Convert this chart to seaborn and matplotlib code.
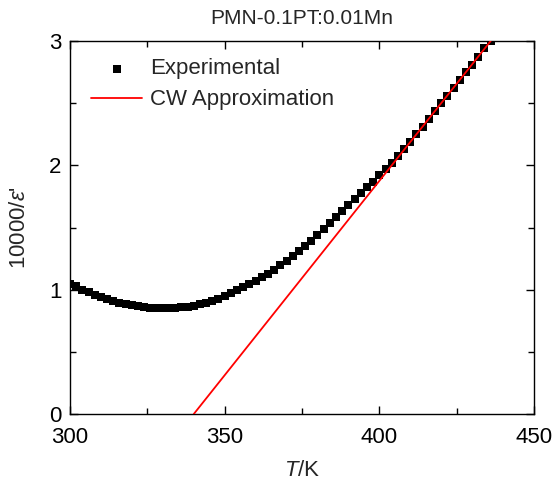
import matplotlib
matplotlib.use("Agg")
import matplotlib.pyplot as plt
import seaborn as sns
import pandas as pd
from matplotlib.ticker import MultipleLocator

# ---- data ----
temperature = [300, 302, 304, 306, 308, 310, 312, 314, 316, 318,
               320, 322, 324, 326, 328, 330, 332, 334, 336, 338,
               340, 342, 344, 346, 348, 350, 352, 354, 356, 358,
               360, 362, 364, 366, 368, 370, 372, 374, 376, 378,
               380, 382, 384, 386, 388, 390, 392, 394, 396, 398,
               400, 402, 404, 406, 408, 410, 412, 414, 416, 418,
               420, 422, 424, 426, 428, 430, 432, 434, 436]
inv_eps = [1.05, 1.03, 1.00, 0.98, 0.96, 0.94, 0.925, 0.91, 0.895, 0.885,
           0.875, 0.867, 0.861, 0.856, 0.853, 0.851, 0.851, 0.853, 0.858, 0.864,
           0.872, 0.882, 0.895, 0.91, 0.928, 0.948, 0.97, 0.995, 1.02, 1.045,
           1.07, 1.10, 1.13, 1.16, 1.195, 1.23, 1.27, 1.31, 1.35, 1.395,
           1.44, 1.49, 1.535, 1.585, 1.63, 1.68, 1.73, 1.775, 1.825, 1.87,
           1.92, 1.97, 2.02, 2.075, 2.13, 2.19, 2.25, 2.31, 2.375, 2.44,
           2.50, 2.56, 2.625, 2.69, 2.75, 2.81, 2.875, 2.94, 3.00]
cw_temperature = [340, 436]
cw_values = [0.0, 3.0]

title = "PMN-0.1PT:0.01Mn"
x_ticks = [300, 350, 400, 450]
y_ticks = [0, 1, 2, 3]

sns.set_style("ticks")
plt.rcParams["font.family"] = ["Liberation Sans", "DejaVu Sans"]
plt.rcParams["mathtext.fontset"] = "custom"
plt.rcParams["mathtext.rm"] = "Liberation Sans"
plt.rcParams["mathtext.it"] = "Liberation Sans:italic"

exp_df = pd.DataFrame({"T": temperature, "v": inv_eps})
cw_df = pd.DataFrame({"T": cw_temperature, "v": cw_values})

fig = plt.figure(figsize=(5.53, 4.86), dpi=100)
ax = fig.add_axes([0.1266, 0.148, 0.839, 0.7676])

sns.scatterplot(data=exp_df, x="T", y="v", ax=ax, marker="s", s=36,
                color="black", edgecolor="black", linewidth=0,
                label="Experimental", zorder=2)
sns.lineplot(data=cw_df, x="T", y="v", ax=ax, color="red", linewidth=1.3,
             label="CW Approximation", zorder=3)

ax.set_xlim(300, 450)
ax.set_ylim(0, 3)
ax.set_xticks(x_ticks)
ax.set_yticks(y_ticks)
ax.xaxis.set_minor_locator(MultipleLocator(25))
ax.yaxis.set_minor_locator(MultipleLocator(0.5))
ax.tick_params(which="both", direction="in", top=True, right=True,
               labelsize=16, width=1, colors="black")
ax.tick_params(which="major", length=6)
ax.tick_params(which="minor", length=4)
ax.tick_params(axis="x", which="major", pad=9)
ax.tick_params(axis="y", which="major", pad=6)
for sp in ax.spines.values():
    sp.set_linewidth(1)
    sp.set_color("black")

ax.set_xlabel(r"$\mathit{T}$/K", fontsize=16, labelpad=9)
ax.set_ylabel(r"10000/$\mathit{ε}$'", fontsize=16, labelpad=14)
ax.set_title(title, fontsize=15, pad=12)

leg = ax.legend(loc="upper left", frameon=False, fontsize=16,
                handlelength=2.3, handletextpad=0.35, labelspacing=0.45,
                borderaxespad=0.0, bbox_to_anchor=(0.026, 0.977))
for h in leg.legend_handles:
    try:
        h.set_sizes([36])
    except Exception:
        pass

fig.savefig("out.png", dpi=100)
